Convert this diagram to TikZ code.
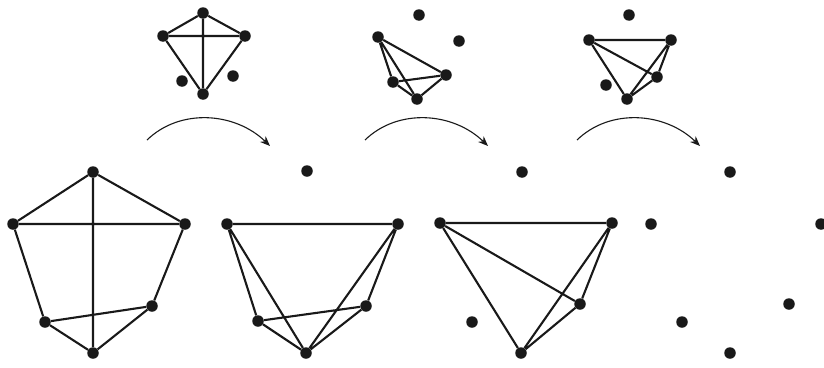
\documentclass[tikz,border=0pt]{standalone}
\usetikzlibrary{arrows.meta}
\begin{document}
\begin{tikzpicture}[x=1pt,y=-1pt,
  dot/.style={circle,fill=black!90,inner sep=0pt,minimum size=11.5pt},
  edge/.style={line width=2.1pt,black!90},
  arr/.style={line width=1.1pt,black!90,-{Stealth[length=10pt,width=8pt]}}]
\useasboundingbox (0,0) rectangle (824,367);
\clip (0,0) rectangle (824,367);
% ---- top graph 1
\node[dot] (t1a) at (203,13) {};
\node[dot] (t1b) at (163,36) {};
\node[dot] (t1c) at (245,36) {};
\node[dot] (t1d) at (182,81) {};
\node[dot] (t1e) at (233,76) {};
\node[dot] (t1f) at (203,94) {};
\draw[edge] (t1a) -- (t1b) (t1a) -- (t1c) (t1a) -- (t1f) (t1b) -- (t1c) (t1b) -- (t1f) (t1c) -- (t1f);
% ---- top graph 2
\node[dot] (t2a) at (419,15) {};
\node[dot] (t2b) at (378,37) {};
\node[dot] (t2c) at (459,41) {};
\node[dot] (t2d) at (446,75) {};
\node[dot] (t2e) at (393,82) {};
\node[dot] (t2f) at (417,99) {};
\draw[edge] (t2b) -- (t2d) (t2b) -- (t2e) (t2b) -- (t2f) (t2e) -- (t2d) (t2e) -- (t2f) (t2d) -- (t2f);
% ---- top graph 3
\node[dot] (t3a) at (629,15) {};
\node[dot] (t3b) at (589,40) {};
\node[dot] (t3c) at (671,40) {};
\node[dot] (t3d) at (657,77) {};
\node[dot] (t3e) at (606,85) {};
\node[dot] (t3f) at (627,99) {};
\draw[edge] (t3b) -- (t3c) (t3b) -- (t3d) (t3b) -- (t3f) (t3c) -- (t3d) (t3c) -- (t3f) (t3d) -- (t3f);
% ---- arrows
\coordinate (s1) at (147,140); \coordinate (e1) at (270,146);
\coordinate (s2) at (365,140); \coordinate (e2) at (488,146);
\coordinate (s3) at (577,140); \coordinate (e3) at (700,146);
\draw[arr] (s1) .. controls (180,108) and (235,112) .. (e1);
\draw[arr] (s2) .. controls (398,108) and (453,112) .. (e2);
\draw[arr] (s3) .. controls (610,108) and (665,112) .. (e3);
% ---- bottom graph 1
\node[dot] (b1a) at (93,172) {};
\node[dot] (b1b) at (13,224) {};
\node[dot] (b1c) at (185,224) {};
\node[dot] (b1d) at (152,306) {};
\node[dot] (b1e) at (45,322) {};
\node[dot] (b1f) at (93,353) {};
\draw[edge] (b1a) -- (b1b) (b1a) -- (b1c) (b1a) -- (b1f) (b1b) -- (b1c) (b1b) -- (b1e) (b1c) -- (b1d) (b1e) -- (b1d) (b1e) -- (b1f) (b1d) -- (b1f);
% ---- bottom graph 2
\node[dot] (b2a) at (307,171) {};
\node[dot] (b2b) at (227,224) {};
\node[dot] (b2c) at (398,224) {};
\node[dot] (b2d) at (366,306) {};
\node[dot] (b2e) at (258,321) {};
\node[dot] (b2f) at (306,353) {};
\draw[edge] (b2b) -- (b2c) (b2b) -- (b2e) (b2b) -- (b2f) (b2c) -- (b2f) (b2c) -- (b2d) (b2e) -- (b2d) (b2e) -- (b2f) (b2d) -- (b2f);
% ---- bottom graph 3
\node[dot] (b3a) at (522,172) {};
\node[dot] (b3b) at (440,223) {};
\node[dot] (b3c) at (612,223) {};
\node[dot] (b3d) at (580,304) {};
\node[dot] (b3e) at (472,322) {};
\node[dot] (b3f) at (521,353) {};
\draw[edge] (b3b) -- (b3c) (b3b) -- (b3d) (b3b) -- (b3f) (b3c) -- (b3f) (b3c) -- (b3d) (b3d) -- (b3f);
% ---- bottom graph 4
\node[dot] (b4a) at (730,172) {};
\node[dot] (b4b) at (651,224) {};
\node[dot] (b4c) at (821,224) {};
\node[dot] (b4d) at (789,304) {};
\node[dot] (b4e) at (682,322) {};
\node[dot] (b4f) at (730,353) {};
\end{tikzpicture}
\end{document}
